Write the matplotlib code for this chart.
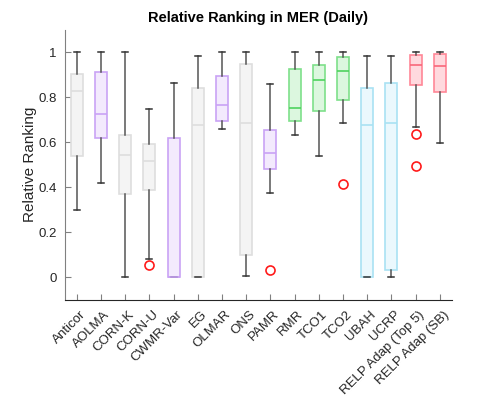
import matplotlib
matplotlib.use("Agg")
import matplotlib.pyplot as plt
from matplotlib.transforms import ScaledTranslation

plt.rcParams['font.family'] = ['Liberation Sans', 'DejaVu Sans']

categories = ["Anticor", "AOLMA", "CORN-K", "CORN-U", "CWMR-Var", "EG", "OLMAR",
              "ONS", "PAMR", "RMR", "TCO1", "TCO2", "UBAH", "UCRP",
              "RELP Adap (Top 5)", "RELP Adap (SB)"]
whislo = [0.297, 0.419, 0.0, 0.080, 0.0, 0.0, 0.657, 0.003, 0.376, 0.634, 0.538, 0.688, 0.0, 0.0, 0.669, 0.597]
q1     = [0.539, 0.617, 0.368, 0.386, 0.0, 0.0, 0.697, 0.100, 0.483, 0.697, 0.741, 0.789, 0.0, 0.031, 0.857, 0.825]
med    = [0.828, 0.724, 0.544, 0.519, 0.0, 0.679, 0.767, 0.684, 0.554, 0.752, 0.875, 0.917, 0.679, 0.686, 0.944, 0.938]
q3     = [0.905, 0.911, 0.634, 0.593, 0.617, 0.840, 0.893, 0.949, 0.654, 0.927, 0.946, 0.981, 0.840, 0.862, 0.987, 0.991]
whishi = [1.0, 1.0, 1.0, 0.747, 0.866, 0.982, 1.0, 1.0, 0.860, 1.0, 1.0, 1.0, 0.982, 0.985, 1.0, 1.0]
fliers = [[], [], [], [0.056], [], [], [], [], [0.033], [], [], [0.413], [], [], [0.639, 0.493], []]
groups = ["gray", "purple", "gray", "gray", "purple", "gray", "purple", "gray", "purple",
          "green", "green", "green", "blue", "blue", "red", "red"]

palette = {
    "gray":   ("#f4f4f4", "#dedede", "#dedede"),
    "purple": ("#f3eafd", "#c9a3f5", "#c9a3f5"),
    "green":  ("#dcf7df", "#7ee08a", "#4fd25f"),
    "blue":   ("#ebf8fd", "#a9e2f3", "#a9e2f3"),
    "red":    ("#ffd9de", "#ff8797", "#f8677a"),
}

stats = []
for i, c in enumerate(categories):
    stats.append(dict(label=c, whislo=whislo[i], q1=q1[i], med=med[i], q3=q3[i],
                      whishi=whishi[i], fliers=fliers[i]))

fig = plt.figure(figsize=(4.99, 3.99), dpi=100)
ax = fig.add_axes([0.1297, 0.249, 0.776, 0.676])

positions = list(range(1, len(categories) + 1))
bp = ax.bxp(stats, positions=positions, widths=0.5, patch_artist=True,
            showfliers=True,
            whiskerprops=dict(color="#555555", linewidth=1.1),
            capprops=dict(color="#333333", linewidth=1.1),
            flierprops=dict(marker="o", markerfacecolor="none",
                            markeredgecolor="#ff1a1a", markersize=6.5, markeredgewidth=1.2))
for i, g in enumerate(groups):
    face, edge, medc = palette[g]
    bp["boxes"][i].set_facecolor(face)
    bp["boxes"][i].set_edgecolor(edge)
    bp["boxes"][i].set_linewidth(1.2)
    bp["medians"][i].set_color(medc)
    bp["medians"][i].set_linewidth(1.2)

ax.set_xlim(0.5, 16.5)
ax.set_ylim(-0.1, 1.1)
ax.set_yticks([0, 0.2, 0.4, 0.6, 0.8, 1.0])
ax.set_yticklabels(["0", "0.2", "0.4", "0.6", "0.8", "1"])
ax.set_xticks(positions)
ax.set_xticklabels(categories, rotation=45, ha="right", va="center", rotation_mode="anchor")

for s in ["top", "right"]:
    ax.spines[s].set_visible(False)
ax.spines["bottom"].set_color("#262626")
ax.spines["left"].set_color("#808080")
for s in ["left", "bottom"]:
    ax.spines[s].set_linewidth(0.8)
ax.tick_params(axis="both", direction="in", length=4, width=0.8, color="#808080",
               labelsize=9.5, labelcolor="#262626")
ax.tick_params(axis="y", pad=6)
ax.tick_params(axis="x", pad=9.5)

offset = ScaledTranslation(0.07, 0, fig.dpi_scale_trans)
for lbl in ax.get_xticklabels():
    lbl.set_transform(lbl.get_transform() + offset)

ax.set_ylabel("Relative Ranking", fontsize=11, color="#262626", labelpad=1)
ax.set_title("Relative Ranking in MER (Daily)", fontsize=10.5, fontweight="bold", pad=6)

fig.savefig("out.png", dpi=100)
